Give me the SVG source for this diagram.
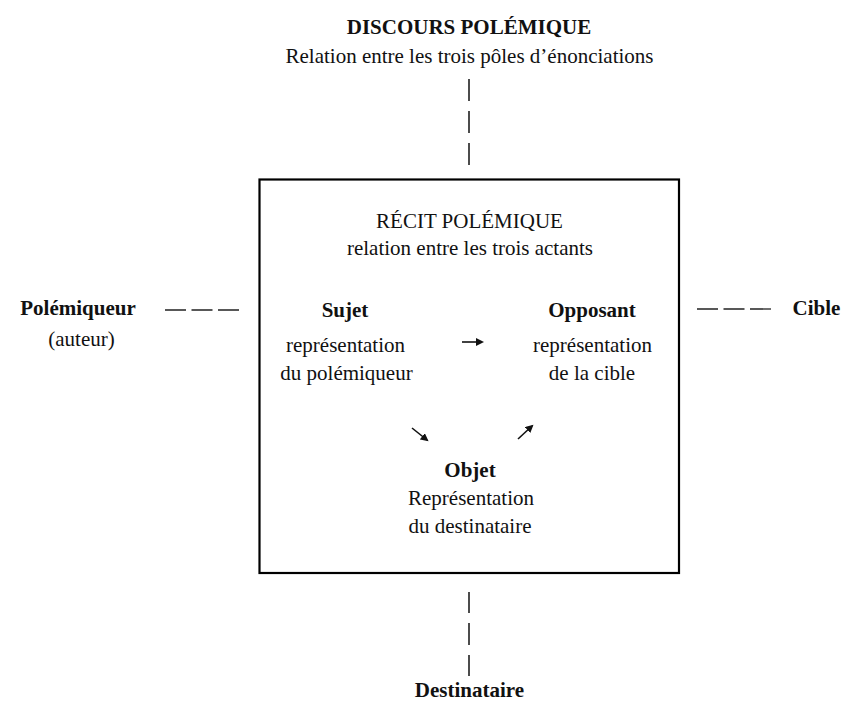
<svg xmlns="http://www.w3.org/2000/svg" width="846" height="703" viewBox="0 0 846 703">
<style>
text{font-family:"Liberation Serif","Times New Roman",serif;font-size:21px;fill:#111;text-anchor:middle}
.b{font-weight:bold}
.bar{stroke:#111;stroke-width:1.5}
.dash{stroke:#222;stroke-width:1.3;stroke-dasharray:21 5.5}
.arr{stroke:#111;stroke-width:1.6;fill:none}
</style>
<defs>
<marker id="ah" markerUnits="userSpaceOnUse" markerWidth="9" markerHeight="9" refX="6" refY="4" orient="auto">
<path d="M0,0 L8,4 L0,8 z" fill="#111"/>
</marker>
</defs>
<rect width="846" height="703" fill="#fff"/>
<g id="discours">
<text class="b" x="469" y="34">DISCOURS POLÉMIQUE</text>
<text x="469.5" y="63">Relation entre les trois pôles d’énonciations</text>
</g>
<g id="recit">
<rect x="259.5" y="179.5" width="419.5" height="393.5" fill="none" stroke="#000" stroke-width="2.2"/>
<text x="469.5" y="228">RÉCIT POLÉMIQUE</text>
<text x="470" y="255">relation entre les trois actants</text>
</g>
<g id="sujet">
<text class="b" x="345" y="317">Sujet</text>
<text x="345.5" y="352">représentation</text>
<text x="346.5" y="380">du polémiqueur</text>
</g>
<g id="opposant">
<text class="b" x="592" y="317">Opposant</text>
<text x="592.5" y="352">représentation</text>
<text x="592" y="380">de la cible</text>
</g>
<g id="objet">
<text class="b" x="470" y="477">Objet</text>
<text x="471" y="505">Représentation</text>
<text x="470" y="533">du destinataire</text>
</g>
<g id="polemiqueur">
<text class="b" x="78" y="315">Polémiqueur</text>
<text x="81.5" y="346">(auteur)</text>
</g>
<g id="cible">
<text class="b" x="816.5" y="315">Cible</text>
</g>
<g id="destinataire">
<text class="b" x="469.5" y="697">Destinataire</text>
</g>
<g id="connectors">
<line class="bar" x1="469" y1="79" x2="469" y2="101"/>
<line class="bar" x1="469" y1="111" x2="469" y2="133"/>
<line class="bar" x1="469" y1="143" x2="469" y2="165"/>
<line class="bar" x1="469" y1="592" x2="469" y2="613"/>
<line class="bar" x1="469" y1="623" x2="469" y2="645"/>
<line class="bar" x1="469" y1="655" x2="469" y2="676"/>
<line class="dash" x1="165" y1="310" x2="239" y2="310"/>
<line class="dash" x1="697" y1="309" x2="771" y2="309"/>
<path class="arr" d="M462,342 L482,342" marker-end="url(#ah)"/>
<path class="arr" d="M412,428 L427,440" marker-end="url(#ah)"/>
<path class="arr" d="M518,439 L532,426" marker-end="url(#ah)"/>
</g>
</svg>
